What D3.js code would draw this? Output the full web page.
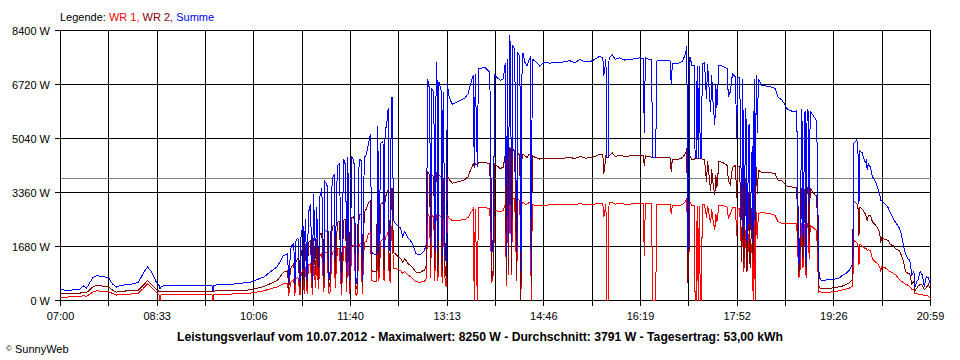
<!DOCTYPE html>
<html><head><meta charset="utf-8">
<script src="https://cdn.jsdelivr.net/npm/d3@7"></script>
<style>
body{margin:0;background:#fff}
svg{display:block}
text{font-family:"Liberation Sans",Arial,sans-serif;fill:#000}
</style>
</head><body>
<svg id="c" width="960" height="360"></svg>
<script>
// ---- data ----
const times = [
"07:00","07:10","07:19","07:22","07:25","07:31","07:35","07:40","07:46","07:50","07:54","07:58","08:07","08:15","08:20","08:24","08:28","08:32","08:35","08:36","08:37","08:41","08:56","09:15","09:26","09:27","09:28","09:44","10:03","10:16","10:22","10:29","10:35",
"10:37","10:39","10:40","10:42","10:43","10:45","10:46","10:47","10:49","10:51","10:52","10:54","10:55","10:56","10:58","10:59","11:01","11:03","11:04","11:06","11:07","11:09","11:10","11:12","11:14","11:15","11:17","11:19","11:20","11:22","11:24","11:25","11:27","11:29","11:31","11:33","11:35","11:36","11:37","11:39","11:41","11:43","11:45","11:46","11:48","11:50","11:51","11:53","11:55","11:57","11:59","12:00","12:02","12:05",
"12:06","12:07","12:09","12:11","12:12","12:13","12:15","12:16","12:17","12:18","12:19","12:20","12:21","12:23","12:26","12:28","12:30","12:32","12:35","12:39","12:43","12:47","12:51","12:53","12:54","12:56","12:57","12:58","13:00","13:01","13:02","13:03","13:04","13:05","13:07","13:08","13:09","13:11","13:12","13:13","13:15","13:18","13:21","13:25","13:30","13:33","13:36","13:38","13:39","13:40","13:42","13:43",
"13:49","13:54","13:56","13:57","13:59","14:04","14:07","14:09","14:10","14:11","14:12","14:13","14:14","14:15","14:16","14:18","14:20","14:21","14:23","14:24","14:25","14:26","14:28","14:30","14:32","14:33","14:34","14:35","14:38","14:42","14:47",
"14:52","14:57","15:02","15:06","15:11","15:16","15:21","15:26","15:31","15:35","15:40","15:43","15:44","15:46","15:47","15:48","15:49","15:52","15:55","15:59","16:04","16:09","16:14","16:19",
"16:22","16:23","16:24","16:28","16:30","16:31","16:32","16:34","16:35","16:40","16:45","16:47","16:48","16:49","16:50","16:55","17:00","17:03","17:04","17:05","17:06","17:07","17:09","17:11","17:12","17:13","17:14","17:15","17:16","17:17","17:18","17:19","17:21","17:23","17:24","17:27","17:28","17:29","17:31","17:32","17:33","17:35","17:38","17:41","17:43","17:44","17:46","17:48","17:51","17:52","17:53",
"17:55","17:57","17:58","17:59","18:01","18:02","18:04","18:05","18:07","18:08","18:09","18:10","18:11","18:12","18:13","18:16","18:24","18:29","18:32","18:36","18:41","18:46","18:50","18:52","18:53","18:55","18:56","18:58","18:59","19:00","19:01","19:02","19:03","19:05","19:08","19:09","19:10","19:11",
"19:12","19:14","19:19","19:22","19:27","19:31","19:34","19:38","19:41","19:44","19:45","19:48","19:49","19:50","19:51","19:53","19:54","19:56","19:57","19:58","19:59","20:01","20:03","20:06","20:08","20:09","20:10","20:11","20:12","20:15","20:18","20:20","20:23","20:26","20:29","20:31","20:33","20:35","20:37","20:39","20:41","20:43","20:44","20:46","20:47","20:49","20:51","20:53","20:55","20:57","20:59"
];
const wr1 = [
104,110,120,150,130,260,300,290,280,220,170,190,200,220,380,520,400,260,180,0,170,190,190,190,190,0,190,200,230,300,360,420,520,
530,540,150,560,600,650,150,680,720,180,800,1000,200,1050,190,1100,1150,180,1300,400,1250,350,1400,1450,250,1500,1480,200,280,1500,1520,400,1600,1620,180,1650,1680,250,1700,200,1710,1720,150,220,1750,1780,200,1800,1850,2080,2100,620,600,580,
2000,600,1850,1900,620,1950,2050,2150,650,600,2300,2300,1000,1000,950,930,850,900,800,700,580,570,600,700,2700,2600,700,2650,2600,600,2450,2700,600,2650,2600,550,2550,500,450,2650,2550,2480,2480,2500,2520,2580,2750,2850,0,2850,0,2900,
2900,2850,600,650,2800,2750,2800,3000,450,3100,800,3250,3200,800,3200,3150,600,3150,3100,0,3000,3050,3000,3000,3050,3050,0,3000,2950,2950,2960,
2980,2990,2980,3000,3000,2990,3010,2990,2990,3000,3020,3020,2600,3000,0,0,3030,3050,3000,3010,3000,3000,3010,3010,
3010,1400,3010,3020,3010,0,0,0,3000,2990,2990,2990,2980,2700,2960,2950,2980,3100,3200,900,1300,3050,2950,2950,0,0,2950,0,2950,0,0,2980,3000,2580,2950,2400,2850,2550,2200,2700,2450,2960,2950,2930,2900,2550,2700,2880,2900,2000,2880,
2850,1300,2800,900,2200,900,2100,1200,1800,0,2800,0,2750,1900,2700,2740,2700,2650,2450,2400,2400,2390,2400,700,800,2400,1000,2380,700,2400,2380,1300,2330,2300,2200,2180,1600,260,
280,260,250,260,280,300,330,360,390,450,1870,1800,1770,1100,1750,1700,1680,1600,1620,1550,1580,1550,1300,1200,1150,1100,1050,900,1050,1030,950,900,850,780,650,600,550,500,480,430,350,330,200,220,200,200,180,150,160,130,60
];
const wr2 = [
207,215,230,260,240,420,470,450,430,330,260,290,300,320,480,620,500,360,280,270,280,290,290,290,295,290,295,300,330,430,520,620,880,
900,920,350,1000,1050,1150,330,1200,1300,400,1450,1710,450,1750,420,1800,1850,400,1950,800,1900,600,2050,2100,500,2180,2150,420,550,2300,2350,800,2440,2450,400,2500,2520,560,2560,420,2590,2600,350,450,2650,2700,430,2750,2850,3060,3100,930,900,880,
3300,880,3000,3050,950,3200,3350,3450,1000,900,3500,3500,1500,1450,1350,1300,1200,1300,1150,1050,880,880,950,1100,4000,3900,1100,3900,3850,1000,3750,4000,900,3900,3850,850,3800,800,750,3900,3750,3650,3680,3700,3760,3850,4100,4250,4150,4250,4200,4300,
4300,4250,700,750,4250,4100,4150,4550,650,4600,1000,4750,4700,900,4700,4650,700,4600,4500,0,4400,4550,4500,4450,4550,4550,500,4500,4450,4400,4420,
4420,4430,4420,4430,4450,4420,4480,4430,4440,4480,4550,4530,3950,4500,4450,4450,4500,4600,4480,4520,4480,4500,4500,4520,
4500,4200,4500,4480,4460,4450,4450,4450,4450,4440,4450,4440,4430,3990,4400,4380,4450,4600,4730,560,1200,4500,4380,4380,4420,4420,4400,4420,4400,4420,4420,4400,4400,3700,4350,3400,4100,3700,3270,3900,3500,4330,4300,4250,4200,3750,3600,4150,4200,3200,4200,
4150,1200,4100,1100,3800,900,3400,1000,3000,1200,4100,2000,4150,3300,4050,3990,3980,3950,3750,3720,3550,3530,3520,800,1300,3500,1300,3500,900,3520,3500,1800,3500,3400,3270,3250,2600,470,
400,370,370,380,400,430,450,500,560,650,3100,3000,2950,2000,2900,2850,2800,2700,2600,2500,2650,2650,2450,2350,2250,2200,2100,1800,1950,1900,1870,1750,1700,1600,1550,1400,1200,900,850,850,500,600,300,400,450,500,480,330,400,500,350
];
const summe = [
330,320,360,460,380,700,780,740,720,520,420,470,500,560,860,1040,880,600,470,360,430,470,470,480,480,290,480,500,570,730,880,1050,1400,
1420,1450,550,1620,1700,1780,500,1850,1950,600,2050,2330,700,2540,650,2700,3000,600,3300,1300,2900,1000,3200,3500,800,3700,3600,650,900,3790,3900,1300,4200,4250,600,4400,4200,900,4450,650,4450,4350,500,700,4400,4350,650,4450,4550,4880,5190,1500,1450,1420,
5440,1500,4900,4950,1600,5200,5600,6000,1700,1500,6300,6320,2500,2400,2300,2250,2000,2150,1950,1800,1450,1420,1550,1800,6900,6550,1800,6600,6450,1600,6200,7420,1500,6800,6550,1400,6500,1300,1200,6750,6300,6100,6150,6220,6300,6430,6790,7000,4150,7050,4150,7200,
7260,7100,1500,1600,7000,6850,6900,7400,1400,7500,2000,8250,7900,1800,7950,7800,1500,7700,7600,880,7000,7700,7400,7300,7500,7550,900,7500,7450,7300,7420,
7380,7420,7400,7430,7460,7400,7500,7420,7430,7500,7600,7550,7000,7500,4450,4450,7550,7650,7500,7550,7480,7500,7520,7550,
7520,5200,7550,7500,7500,4450,4450,4450,7450,7460,7470,7460,7450,6690,7360,7360,7450,7700,7930,1500,2500,7570,7310,7320,4420,4420,7300,4420,7300,4420,4420,7350,7400,6280,7350,5860,7000,6300,5450,6700,6000,7310,7300,7250,7210,6330,6500,7050,6950,5040,6950,
6950,2500,6900,2000,6000,1800,5500,2200,4800,1800,6900,2500,7000,5200,6900,6700,6650,6600,6330,6230,5950,5880,5900,1100,1600,5960,2000,5900,1100,5950,5900,3000,5880,5800,5650,5600,4400,1090,
700,620,640,650,670,700,780,850,950,1150,4880,5000,4700,3000,4650,4600,4500,4300,4350,4050,4250,4150,3850,3700,3520,3400,3300,3100,3100,3000,2900,2750,2550,2400,2250,2050,1700,1450,1300,1250,800,900,420,600,650,900,800,430,750,700,500
];
const yTickValues = [0, 1680, 3360, 5040, 6720, 8400];
const xTickLabels = ["07:00","08:33","10:06","11:40","13:13","14:46","16:19","17:52","19:26","20:59"];
const averageW = 3791;
const legendItems = [
  {label: "Legende: ", color: "#000000"},
  {label: "WR 1,", color: "#ff0000"},
  {label: " WR 2,", color: "#800000"},
  {label: " Summe", color: "#0000ff"}
];
const titleText = "Leistungsverlauf vom 10.07.2012 - Maximalwert: 8250 W - Durchschnitt: 3791 W - Tagesertrag: 53,00 kWh";
const creditText = "SunnyWeb";

// ---- drawing ----
const svg = d3.select("#c");
const toMin = s => { const p = s.split(":").map(Number); return p[0]*60 + p[1] - 420; };
const x = d3.scaleLinear().domain([0, 839]).range([60.5, 930.5]);
const y = d3.scaleLinear().domain([0, 8400]).range([300.5, 30.5]);

const gridMins = d3.range(19).map(k => k * 839 / 18);
const snap = v => Math.round(v - 0.5) + 0.5;

// vertical grid + ticks
svg.append("g").selectAll("line").data(gridMins).join("line")
  .attr("x1", d => snap(x(d))).attr("x2", d => snap(x(d)))
  .attr("y1", y(8400)).attr("y2", y(0) + 5)
  .attr("stroke", "#000").attr("shape-rendering", "crispEdges");

// horizontal grid + ticks
svg.append("g").selectAll("line").data(yTickValues).join("line")
  .attr("x1", 55).attr("x2", x(839))
  .attr("y1", d => snap(y(d))).attr("y2", d => snap(y(d)))
  .attr("stroke", "#000").attr("shape-rendering", "crispEdges");

// y labels
svg.append("g").selectAll("text").data(yTickValues).join("text")
  .attr("x", 50).attr("y", d => y(d) + 4)
  .attr("text-anchor", "end").attr("font-size", 11)
  .text(d => d + " W");

// x labels
svg.append("g").selectAll("text").data(xTickLabels).join("text")
  .attr("x", (d, i) => x(gridMins[i * 2]))
  .attr("y", 320).attr("text-anchor", "middle").attr("font-size", 11)
  .text(d => d);

// average line
svg.append("line")
  .attr("x1", x(0)).attr("x2", x(839))
  .attr("y1", snap(y(averageW))).attr("y2", snap(y(averageW)))
  .attr("stroke", "#808080").attr("shape-rendering", "crispEdges");

// series
const n = Math.min(times.length, wr1.length, wr2.length, summe.length);
const mins = times.slice(0, n).map(toMin);
const series = [
  {values: wr1, color: "#ff0000"},
  {values: wr2, color: "#800000"},
  {values: summe, color: "#0000ff"}
];
const line = d3.line().x(d => x(d[0])).y(d => y(d[1]));
svg.append("g").selectAll("path").data(series).join("path")
  .attr("d", s => line(mins.map((m, i) => [m, s.values[i]])))
  .attr("fill", "none").attr("stroke", s => s.color).attr("stroke-width", 1)
  .attr("shape-rendering", "crispEdges");

// legend
const lg = svg.append("text").attr("x", 60).attr("y", 21).attr("font-size", 11);
lg.selectAll("tspan").data(legendItems).join("tspan")
  .attr("fill", d => d.color).style("fill", d => d.color)
  .attr("xml:space", "preserve")
  .text(d => d.label);

// title
svg.append("text").attr("x", 480).attr("y", 341)
  .attr("text-anchor", "middle").attr("font-size", 12).attr("font-weight", "bold")
  .attr("textLength", 606).attr("lengthAdjust", "spacingAndGlyphs")
  .text(titleText);

// credit
const cr = svg.append("text").attr("x", 6).attr("y", 353).attr("font-size", 11);
cr.append("tspan").attr("font-size", 8).attr("dy", -2).text("©");
cr.append("tspan").attr("dy", 2).text(" " + creditText);
</script>
</body></html>
